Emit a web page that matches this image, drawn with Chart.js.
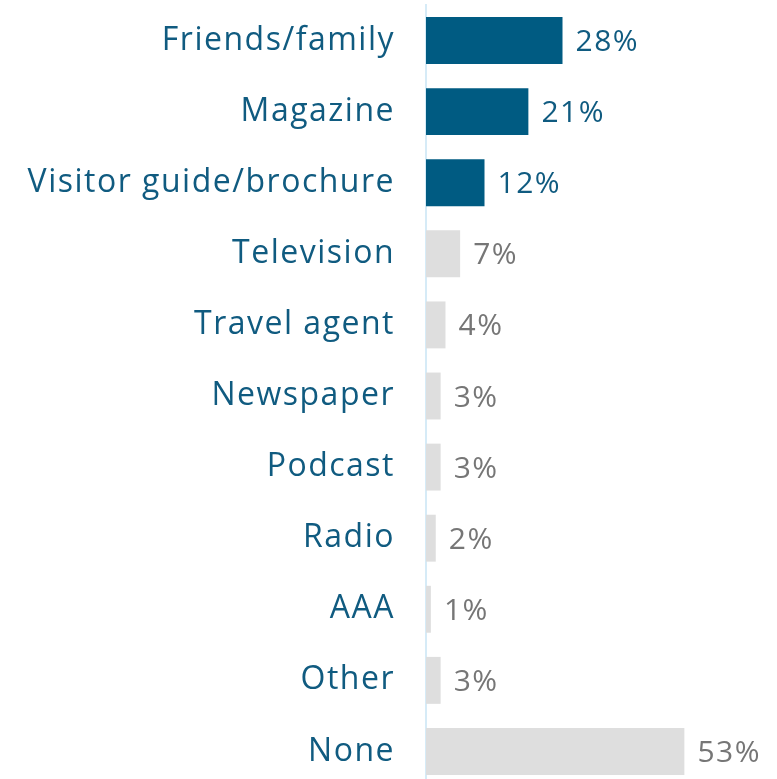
<!DOCTYPE html>
<html>
<head>
<meta charset="utf-8">
<script src="https://cdn.jsdelivr.net/npm/chart.js@4"></script>
<style>
  html, body { margin: 0; padding: 0; background: #fff; overflow: hidden; }
</style>
</head>
<body>
<canvas id="sourcesChart" width="777" height="787"></canvas>
<script>
// بيانات الرسم
const categories = ['Friends/family', 'Magazine', 'Visitor guide/brochure', 'Television', 'Travel agent',
    'Newspaper', 'Podcast', 'Radio', 'AAA', 'Other', 'None'];
const shares = [28, 21, 12, 7, 4, 3, 3, 2, 1, 3, 53];
const highlighted = [true, true, true, false, false, false, false, false, false, false, false];

const BLUE = '#005b82';
const GREY = '#dedede';
const LABEL_BLUE = '#105b80';
const VALUE_GREY = '#767676';
const FONT = 'Open Sans';

// تباعد الحروف لتقريب عرض الخط الأصلي
const letterSpacing = {
    id: 'letterSpacing',
    beforeDraw(chart) {
        chart.ctx.letterSpacing = '1.5px';
    }
};

// كتابة القيم بجانب الأعمدة
const valueLabels = {
    id: 'valueLabels',
    afterDatasetsDraw(chart) {
        const ctx = chart.ctx;
        const meta = chart.getDatasetMeta(0);
        ctx.save();
        ctx.letterSpacing = '1.5px';
        ctx.font = `30px "${FONT}"`;
        ctx.textBaseline = 'middle';
        ctx.textAlign = 'left';
        meta.data.forEach((bar, i) => {
            ctx.fillStyle = highlighted[i] ? LABEL_BLUE : VALUE_GREY;
            ctx.fillText(shares[i] + '%', bar.x + 13, bar.y + 2);
        });
        ctx.restore();
    }
};

const ctx = document.getElementById('sourcesChart').getContext('2d');
new Chart(ctx, {
    type: 'bar',
    data: {
        labels: categories,
        datasets: [{
            data: shares,
            backgroundColor: highlighted.map(h => h ? BLUE : GREY),
            borderWidth: 0,
            barPercentage: 0.66,
            categoryPercentage: 1
        }]
    },
    options: {
        indexAxis: 'y',
        responsive: false,
        animation: false,
        layout: { padding: { top: 5, right: 0, bottom: 0, left: 0 } },
        plugins: {
            legend: { display: false },
            tooltip: { enabled: false }
        },
        scales: {
            x: {
                display: false,
                min: 0,
                max: 72
            },
            y: {
                afterFit(scale) {
                    scale.width = 426;
                    scale.paddingTop = 0;
                    scale.paddingBottom = 0;
                },
                grid: { display: false, drawTicks: false },
                border: { display: true, color: '#d6ebf7', width: 2 },
                ticks: {
                    padding: 31,
                    color: LABEL_BLUE,
                    font: { family: FONT, size: 32 }
                }
            }
        }
    },
    plugins: [letterSpacing, valueLabels]
});
</script>
</body>
</html>
